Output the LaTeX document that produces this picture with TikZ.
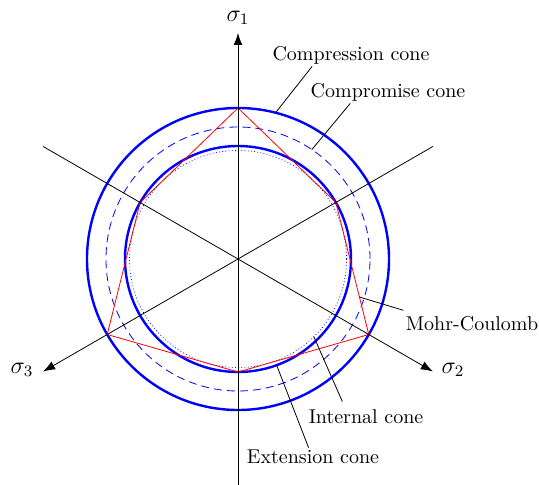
\documentclass[tikz,border=0pt]{standalone}
\usetikzlibrary{arrows.meta, calc}
\tikzset{cone/.style={blue,very thick},midcone/.style={blue,thin,dash pattern=on 4pt off 2.5pt},intcone/.style={blue,thin,dash pattern=on 0.4pt off 1.2pt},axis/.style={-{Latex[length=6pt,width=4.4pt]}},mcline/.style={red,thin},leader/.style={black,thin},lbl/.style={inner sep=1pt},sig/.style={inner sep=1pt,font=\large}}
\newcommand{\Rcomp}{151}
\newcommand{\Rext}{113}
\newcommand{\Rmid}{132}
\newcommand{\Rint}{108.6}

\begin{document}
\begin{tikzpicture}[x=0.5pt,y=0.5pt]
\useasboundingbox (-238,-226) rectangle (301,259);
\coordinate (o) at (0,0);
% cones
\draw[cone] (o) circle[radius=\Rcomp];
\draw[midcone] (o) circle[radius=\Rmid];
\draw[cone] (o) circle[radius=\Rext];
\draw[intcone] (o) circle[radius=\Rint];
% Mohr-Coulomb hexagon
\draw[mcline] (90:\Rcomp) -- (150:\Rext) -- (210:\Rcomp) -- (270:\Rext) -- (330:\Rcomp) -- (30:\Rext) -- cycle;
% axes
\coordinate (s1a) at (270:226); \coordinate (s1b) at (90:226);
\coordinate (s2a) at (150:225); \coordinate (s2b) at (330:225);
\coordinate (s3a) at (30:225); \coordinate (s3b) at (210:225);
\draw[axis] (s1a) -- (s1b);
\draw[axis] (s2a) -- (s2b);
\draw[axis] (s3a) -- (s3b);
\node[sig] (sig1) at (0,241) {$\sigma_1$};
\node[sig] (sig2) at (215,-111) {$\sigma_2$};
\node[sig] (sig3) at (-216,-111) {$\sigma_3$};
% labels
\coordinate (pcomp) at (75.6:\Rcomp);
\coordinate (pmid) at (56:\Rmid);
\coordinate (pmc) at ($(330:\Rcomp)!0.284!(30:\Rext)$);
\coordinate (pint) at (-45.7:\Rint);
\coordinate (pext) at (-70:\Rext);
\node[lbl] (comp) at (113,204) {Compression cone};
\node[lbl] (cmid) at (150,167) {Compromise cone};
\node[lbl] (mc) at (234,-65) {Mohr-Coulomb};
\node[lbl] (int) at (128,-158) {Internal cone};
\node[lbl] (ext) at (75,-198) {Extension cone};
\draw[leader] (pcomp) -- ([xshift=21pt]comp.south west);
\draw[leader] (pmid) -- ([xshift=21pt]cmid.south west);
\draw[leader] (pmc) -- ([yshift=2pt]mc.north west);
\draw[leader] (pint) -- ([xshift=18pt,yshift=3pt]int.north west);
\draw[leader] (pext) -- ([xshift=32pt]ext.north west);
\end{tikzpicture}
\end{document}
